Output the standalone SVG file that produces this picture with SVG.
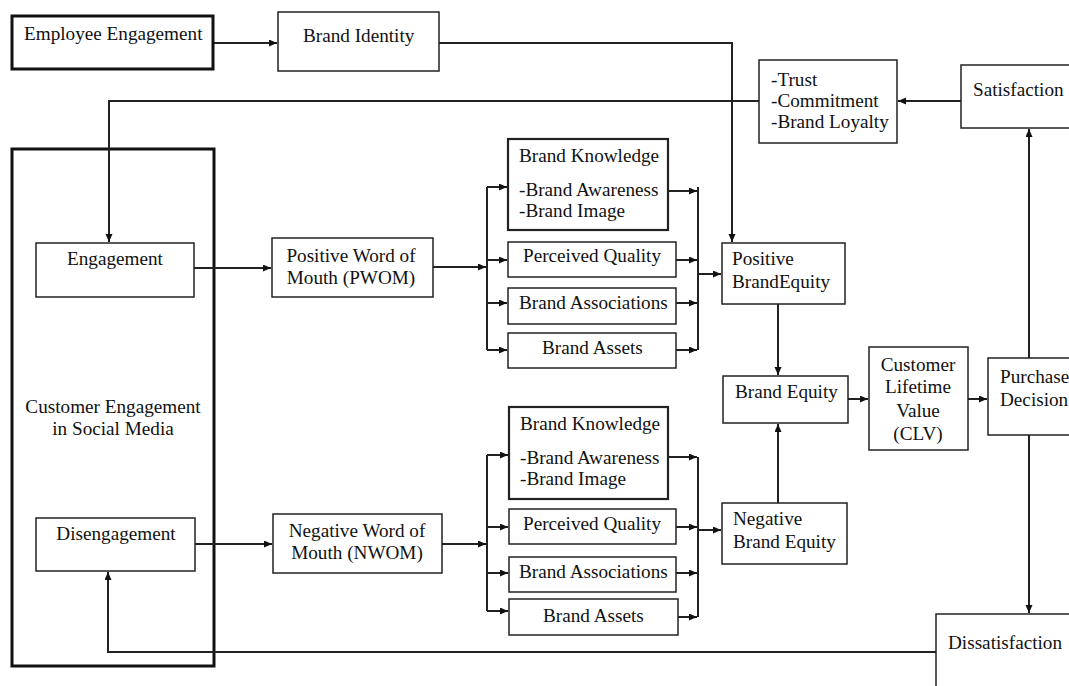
<svg xmlns="http://www.w3.org/2000/svg" width="1069" height="686" viewBox="0 0 1069 686">
<style>
.box{fill:#fff;stroke:#222;stroke-width:1.5}
.thick{fill:#fff;stroke:#111;stroke-width:3}
.mid{fill:#fff;stroke:#222;stroke-width:2.2}
.c{fill:none;stroke:#222;stroke-width:2}
.t{font-family:"Liberation Serif","Times New Roman",serif;font-size:19.2px;fill:#111}
.m{text-anchor:middle}
</style>
<defs>
<marker id="a" markerUnits="userSpaceOnUse" markerWidth="9" markerHeight="8" refX="8" refY="3.5" orient="auto">
<path d="M0,0 L8,3.5 L0,7 z" fill="#111"/>
</marker>
</defs>
<rect width="1069" height="686" fill="#fff"/>

<g id="customer-engagement">
<rect class="thick" x="12" y="149" width="202" height="517"/>
<text class="t m" x="113" y="413">Customer Engagement</text>
<text class="t m" x="113" y="435">in Social Media</text>
</g>

<g id="connectors">
<path class="c" d="M213,43 H277" marker-end="url(#a)"/>
<path class="c" d="M439,43 H732 V242" marker-end="url(#a)"/>
<path class="c" d="M961,101 H898" marker-end="url(#a)"/>
<path class="c" d="M759,101 H109 V242" marker-end="url(#a)"/>
<path class="c" d="M194,268 H271" marker-end="url(#a)"/>
<path class="c" d="M433,267 H486" marker-end="url(#a)"/>
<path class="c" d="M487,187 V350"/>
<path class="c" d="M487,187 H507" marker-end="url(#a)"/>
<path class="c" d="M487,260 H507" marker-end="url(#a)"/>
<path class="c" d="M487,303 H507" marker-end="url(#a)"/>
<path class="c" d="M487,350 H507" marker-end="url(#a)"/>
<path class="c" d="M668,191 H697" marker-end="url(#a)"/>
<path class="c" d="M676,260 H697" marker-end="url(#a)"/>
<path class="c" d="M676,303 H697" marker-end="url(#a)"/>
<path class="c" d="M676,350 H697" marker-end="url(#a)"/>
<path class="c" d="M698,187 V350"/>
<path class="c" d="M698,274 H721" marker-end="url(#a)"/>
<path class="c" d="M778,304 V375" marker-end="url(#a)"/>
<path class="c" d="M778,503 V424" marker-end="url(#a)"/>
<path class="c" d="M848,399 H868" marker-end="url(#a)"/>
<path class="c" d="M968,399 H987" marker-end="url(#a)"/>
<path class="c" d="M1029,358 V129" marker-end="url(#a)"/>
<path class="c" d="M1029,435 V613" marker-end="url(#a)"/>
<path class="c" d="M936,652 H108 V572" marker-end="url(#a)"/>
<path class="c" d="M195,544 H272" marker-end="url(#a)"/>
<path class="c" d="M442,544 H486" marker-end="url(#a)"/>
<path class="c" d="M487,455 V611"/>
<path class="c" d="M487,455 H508" marker-end="url(#a)"/>
<path class="c" d="M487,527 H508" marker-end="url(#a)"/>
<path class="c" d="M487,573 H508" marker-end="url(#a)"/>
<path class="c" d="M487,611 H508" marker-end="url(#a)"/>
<path class="c" d="M668,457 H697" marker-end="url(#a)"/>
<path class="c" d="M676,527 H697" marker-end="url(#a)"/>
<path class="c" d="M676,573 H697" marker-end="url(#a)"/>
<path class="c" d="M678,617 H697" marker-end="url(#a)"/>
<path class="c" d="M698,457 V617"/>
<path class="c" d="M698,530 H721" marker-end="url(#a)"/>
</g>

<g id="employee-engagement">
<rect class="thick" x="12" y="16" width="201" height="53"/>
<text class="t" x="24" y="40">Employee Engagement</text>
</g>
<g id="brand-identity">
<rect class="box" x="278" y="12" width="161" height="59"/>
<text class="t" x="303" y="42">Brand Identity</text>
</g>
<g id="trust">
<rect class="box" x="759" y="60" width="138" height="83"/>
<text class="t" x="771" y="86">-Trust</text>
<text class="t" x="771" y="107">-Commitment</text>
<text class="t" x="771" y="128">-Brand Loyalty</text>
</g>
<g id="satisfaction">
<rect class="box" x="961" y="65" width="115" height="63"/>
<text class="t" x="973" y="96">Satisfaction</text>
</g>
<g id="engagement">
<rect class="box" x="36" y="243" width="158" height="54"/>
<text class="t m" x="115" y="265">Engagement</text>
</g>
<g id="pwom">
<rect class="box" x="272" y="238" width="161" height="59"/>
<text class="t m" x="351" y="262">Positive Word of</text>
<text class="t m" x="351" y="284">Mouth (PWOM)</text>
</g>
<g id="disengagement">
<rect class="box" x="36" y="518" width="159" height="53"/>
<text class="t m" x="116" y="540">Disengagement</text>
</g>
<g id="nwom">
<rect class="box" x="273" y="514" width="169" height="59"/>
<text class="t m" x="357" y="537">Negative Word of</text>
<text class="t m" x="357" y="559">Mouth (NWOM)</text>
</g>

<g id="brand-knowledge-pos">
<rect class="mid" x="508" y="139" width="160" height="91"/>
<text class="t" x="519" y="162">Brand Knowledge</text>
<text class="t" x="519" y="196">-Brand Awareness</text>
<text class="t" x="519" y="217">-Brand Image</text>
</g>
<g id="perceived-quality-pos">
<rect class="box" x="508" y="242" width="168" height="35"/>
<text class="t" x="523" y="262">Perceived Quality</text>
</g>
<g id="brand-associations-pos">
<rect class="box" x="508" y="288" width="168" height="36"/>
<text class="t" x="519" y="309">Brand Associations</text>
</g>
<g id="brand-assets-pos">
<rect class="box" x="508" y="333" width="168" height="35"/>
<text class="t" x="542" y="354">Brand Assets</text>
</g>

<g id="brand-knowledge-neg">
<rect class="mid" x="509" y="407" width="159" height="92"/>
<text class="t" x="520" y="430">Brand Knowledge</text>
<text class="t" x="520" y="464">-Brand Awareness</text>
<text class="t" x="520" y="485">-Brand Image</text>
</g>
<g id="perceived-quality-neg">
<rect class="box" x="509" y="509" width="167" height="35"/>
<text class="t" x="523" y="530">Perceived Quality</text>
</g>
<g id="brand-associations-neg">
<rect class="box" x="509" y="557" width="167" height="35"/>
<text class="t" x="519" y="578">Brand Associations</text>
</g>
<g id="brand-assets-neg">
<rect class="box" x="509" y="599" width="169" height="36"/>
<text class="t" x="543" y="622">Brand Assets</text>
</g>

<g id="positive-brand-equity">
<rect class="box" x="722" y="243" width="123" height="61"/>
<text class="t" x="732" y="265">Positive</text>
<text class="t" x="732" y="288">BrandEquity</text>
</g>
<g id="brand-equity">
<rect class="box" x="723" y="376" width="125" height="47"/>
<text class="t" x="735" y="398">Brand Equity</text>
</g>
<g id="negative-brand-equity">
<rect class="box" x="722" y="503" width="125" height="61"/>
<text class="t" x="733" y="525">Negative</text>
<text class="t" x="733" y="548">Brand Equity</text>
</g>
<g id="clv">
<rect class="box" x="869" y="347" width="99" height="103"/>
<text class="t m" x="918" y="371">Customer</text>
<text class="t m" x="918" y="393">Lifetime</text>
<text class="t m" x="918" y="417">Value</text>
<text class="t m" x="918" y="440">(CLV)</text>
</g>
<g id="purchase-decision">
<rect class="box" x="988" y="358" width="90" height="77"/>
<text class="t" x="1000" y="383">Purchase</text>
<text class="t" x="1000" y="406">Decision</text>
</g>
<g id="dissatisfaction">
<rect class="box" x="936" y="614" width="140" height="80"/>
<text class="t" x="948" y="649">Dissatisfaction</text>
</g>
</svg>
